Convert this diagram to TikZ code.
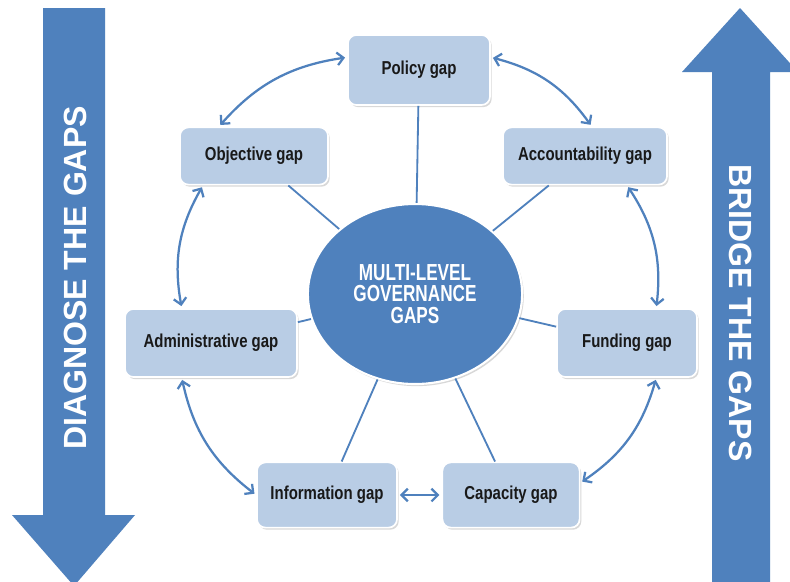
\documentclass[tikz,border=0pt]{standalone}
\usepackage{graphicx}
\usepackage{fontspec}
\setmainfont{Liberation Sans}
\usetikzlibrary{shadows,arrows.meta,shapes.geometric}
\definecolor{gapblue}{HTML}{4F81BD}
\definecolor{boxblue}{HTML}{B9CDE5}
\newcommand\narrowtxt[1]{\scalebox{0.8}[1]{#1}}
\tikzset{
  gapbox/.style={draw=white, line width=1.2pt, fill=boxblue, rounded corners=6pt,
    font=\bfseries\fontsize{13.3}{15}\selectfont, text=black!90,
    drop shadow={opacity=0.3, shadow xshift=1.2pt, shadow yshift=-1.5pt}},
  spoke/.style={draw=gapblue, line width=1.3pt},
  link/.style={draw=gapblue, line width=1.6pt, {Straight Barb[length=4.5pt,width=9pt]}-{Straight Barb[length=4.5pt,width=9pt]}, shorten <=1.5pt, shorten >=1.5pt},
  bigtext/.style={text=white, font=\bfseries\fontsize{22.8}{24}\selectfont}
}
\begin{document}
\begin{tikzpicture}[x=0.025cm, y=-0.025cm]
  \clip (0,0) rectangle (790,581);
  \fill[white] (0,0) rectangle (790,581);
  \fill[gapblue] (43,8) -- (105,8) -- (105,515) -- (135,515) -- (74,586) -- (12,515) -- (43,515) -- cycle;
  \fill[gapblue] (712,600) -- (712,72) -- (682,72) -- (740,8) -- (798,72) -- (770,72) -- (770,600) -- cycle;
  \node[bigtext, rotate=90] (diagnose) at (75,278) {DIAGNOSE THE GAPS};
  \node[bigtext, rotate=-90] (bridge) at (741,313) {BRIDGE THE GAPS};

  \node[ellipse, draw=white, line width=1.5pt, fill=gapblue, minimum width=5.1cm, minimum height=4.5cm,
    text=white, font=\bfseries\fontsize{16.5}{15.3}\selectfont,
    drop shadow={opacity=0.3, shadow xshift=1.2pt, shadow yshift=-1.5pt}]
    (hub) at (415,294) {\scalebox{0.74}[1]{\parbox{4.8cm}{\centering MULTI-LEVEL\\GOVERNANCE\\GAPS}}};

  \node[gapbox, minimum width=3.55cm, minimum height=1.75cm] (policy) at (419,70) {\narrowtxt{Policy gap}};
  \node[gapbox, minimum width=3.7cm, minimum height=1.43cm] (objective) at (254,156) {\narrowtxt{Objective gap}};
  \node[gapbox, minimum width=4.1cm, minimum height=1.43cm] (account) at (585,156) {\narrowtxt{Accountability gap}};
  \node[gapbox, minimum width=4.3cm, minimum height=1.7cm] (admin) at (211,343) {\narrowtxt{Administrative gap}};
  \node[gapbox, minimum width=3.5cm, minimum height=1.7cm] (funding) at (627,343) {\narrowtxt{Funding gap}};
  \node[gapbox, minimum width=3.5cm, minimum height=1.63cm] (info) at (327,495) {\narrowtxt{Information gap}};
  \node[gapbox, minimum width=3.43cm, minimum height=1.63cm] (capacity) at (511,495) {\narrowtxt{Capacity gap}};

  \foreach \g in {policy,objective,account,admin,funding,info,capacity}
    \draw[spoke] (hub) -- (\g);

  \draw[link] (policy.170) to[bend right=20] (objective.140);
  \draw[link] (policy.10) to[bend left=20] (account.77);
  \draw[link] (objective.210) to[bend right=20] (admin.130);
  \draw[link] (account.-35) to[bend left=20] (funding.50);
  \draw[link] (admin.230) to[bend right=20] (info.180);
  \draw[link] (funding.-50) to[bend left=20] (capacity.10);
  \draw[link] (info.east) -- (capacity.west);
\end{tikzpicture}
\end{document}
